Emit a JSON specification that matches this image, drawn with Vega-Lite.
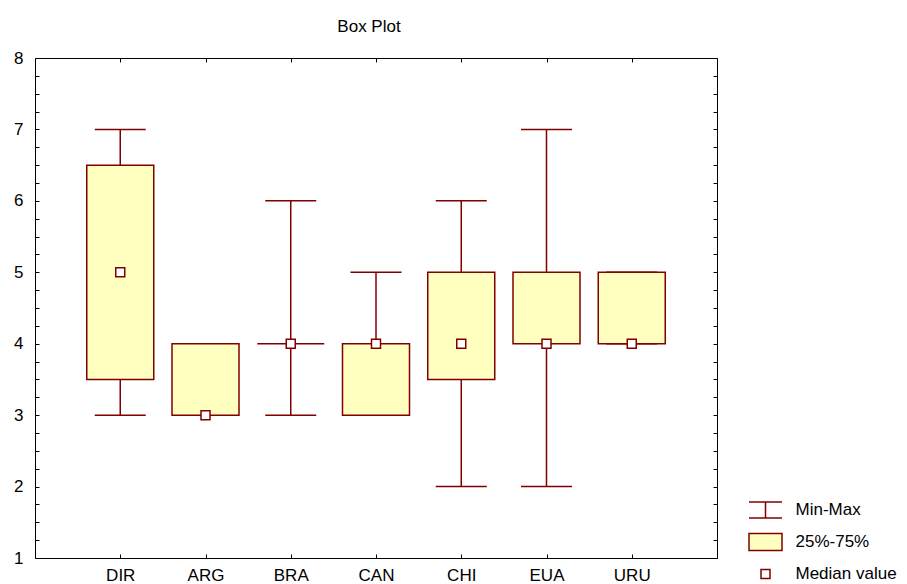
{
  "$schema": "https://vega.github.io/schema/vega-lite/v6.json",
  "width": 682,
  "height": 500,
  "autosize": "none",
  "padding": {"left": 35, "top": 58, "right": 190, "bottom": 26},
  "background": "white",
  "config": {
    "font": "Liberation Sans",
    "view": {"stroke": "#000000", "strokeWidth": 1},
    "axis": {
      "domain": false,
      "grid": false,
      "ticks": true,
      "tickColor": "#000000",
      "tickWidth": 1,
      "tickSize": -4,
      "labelColor": "#000000",
      "labelFont": "Liberation Sans",
      "labelFontSize": 17,
      "title": null
    }
  },
  "title": {
    "text": "Box Plot",
    "anchor": "middle",
    "font": "Liberation Sans",
    "fontSize": 17,
    "fontWeight": "normal",
    "color": "#000000",
    "baseline": "alphabetic",
    "offset": 0,
    "dx": -7
  },
  "data": {
    "values": [
      {"group": "DIR", "min": 3, "q1": 3.5, "median": 5, "q3": 6.5, "max": 7},
      {"group": "ARG", "min": 3, "q1": 3, "median": 3, "q3": 4, "max": 4},
      {"group": "BRA", "min": 3, "q1": 4, "median": 4, "q3": 4, "max": 6},
      {"group": "CAN", "min": 3, "q1": 3, "median": 4, "q3": 4, "max": 5},
      {"group": "CHI", "min": 2, "q1": 3.5, "median": 4, "q3": 5, "max": 6},
      {"group": "EUA", "min": 2, "q1": 4, "median": 4, "q3": 5, "max": 7},
      {"group": "URU", "min": 4, "q1": 4, "median": 4, "q3": 5, "max": 5}
    ]
  },
  "resolve": {"axis": {"x": "independent", "y": "independent"}},
  "layer": [
    {
      "mark": {"type": "rule", "color": "#800000", "strokeWidth": 1.5},
      "encoding": {
        "x": {
          "field": "group", "type": "nominal", "sort": null,
          "scale": {"type": "point", "padding": 1},
          "axis": {"orient": "bottom", "labelAngle": 0, "labelPadding": 13}
        },
        "y": {
          "field": "min", "type": "quantitative",
          "scale": {"domain": [1, 8], "nice": false, "zero": false},
          "axis": {
            "orient": "left",
            "values": [1, 1.25, 1.5, 1.75, 2, 2.25, 2.5, 2.75, 3, 3.25, 3.5, 3.75, 4, 4.25, 4.5, 4.75, 5, 5.25, 5.5, 5.75, 6, 6.25, 6.5, 6.75, 7, 7.25, 7.5, 7.75, 8],
            "labelExpr": "datum.value % 1 === 0 ? format(datum.value, 'd') : ''",
            "labelPadding": 16
          }
        },
        "y2": {"field": "max"}
      }
    },
    {
      "mark": {"type": "tick", "color": "#800000", "size": 51, "thickness": 1.5, "opacity": 1},
      "encoding": {
        "x": {"field": "group", "type": "nominal", "sort": null, "axis": null},
        "y": {"field": "min", "type": "quantitative", "axis": null}
      }
    },
    {
      "mark": {"type": "tick", "color": "#800000", "size": 51, "thickness": 1.5, "opacity": 1},
      "encoding": {
        "x": {"field": "group", "type": "nominal", "sort": null, "axis": null},
        "y": {"field": "max", "type": "quantitative", "axis": null}
      }
    },
    {
      "mark": {"type": "bar", "width": 67, "fill": "#FFFFC0", "stroke": "#800000", "strokeWidth": 1.5},
      "encoding": {
        "x": {"field": "group", "type": "nominal", "sort": null, "axis": null},
        "y": {"field": "q1", "type": "quantitative", "axis": null},
        "y2": {"field": "q3"}
      }
    },
    {
      "mark": {"type": "point", "filled": true, "opacity": 1, "size": 400, "stroke": "#800000", "strokeWidth": 1.5},
      "encoding": {
        "x": {
          "field": "group", "type": "nominal", "sort": null,
          "axis": {"orient": "top", "labels": false}
        },
        "y": {
          "field": "median", "type": "quantitative",
          "axis": {
            "orient": "right",
            "labels": false,
            "values": [1, 1.25, 1.5, 1.75, 2, 2.25, 2.5, 2.75, 3, 3.25, 3.5, 3.75, 4, 4.25, 4.5, 4.75, 5, 5.25, 5.5, 5.75, 6, 6.25, 6.5, 6.75, 7, 7.25, 7.5, 7.75, 8]
          }
        },
        "shape": {
          "datum": "Median value",
          "scale": {
            "domain": ["Min-Max", "25%-75%", "Median value"],
            "range": [
              "M-1.65,-0.8H1.65M0,-0.8V0.8M-1.65,0.8H1.65",
              "M-1.65,-0.85H1.65V0.85H-1.65Z",
              "M-0.45,-0.45H0.45V0.45H-0.45Z"
            ]
          },
          "legend": {
            "orient": "none",
            "legendX": 719.5,
            "legendY": 441,
            "title": null,
            "padding": 0,
            "symbolSize": 400,
            "symbolOpacity": 1,
            "labelOffset": 19,
            "rowPadding": 9,
            "labelFont": "Liberation Sans",
            "labelFontSize": 17,
            "labelColor": "#000000",
            "encode": {
              "symbols": {
                "update": {
                  "stroke": {"value": "#800000"},
                  "strokeWidth": {"value": 1.5},
                  "opacity": {"value": 1}
                }
              }
            }
          }
        },
        "fill": {
          "datum": "Median value",
          "scale": {
            "domain": ["Min-Max", "25%-75%", "Median value"],
            "range": ["transparent", "#FFFFC0", "#FFFFFF"]
          },
          "legend": {
            "orient": "none",
            "legendX": 719.5,
            "legendY": 441,
            "title": null,
            "padding": 0,
            "symbolSize": 400,
            "symbolOpacity": 1,
            "labelOffset": 19,
            "rowPadding": 9,
            "labelFont": "Liberation Sans",
            "labelFontSize": 17,
            "labelColor": "#000000",
            "encode": {
              "symbols": {
                "update": {
                  "stroke": {"value": "#800000"},
                  "strokeWidth": {"value": 1.5},
                  "opacity": {"value": 1}
                }
              }
            }
          }
        }
      }
    }
  ]
}
